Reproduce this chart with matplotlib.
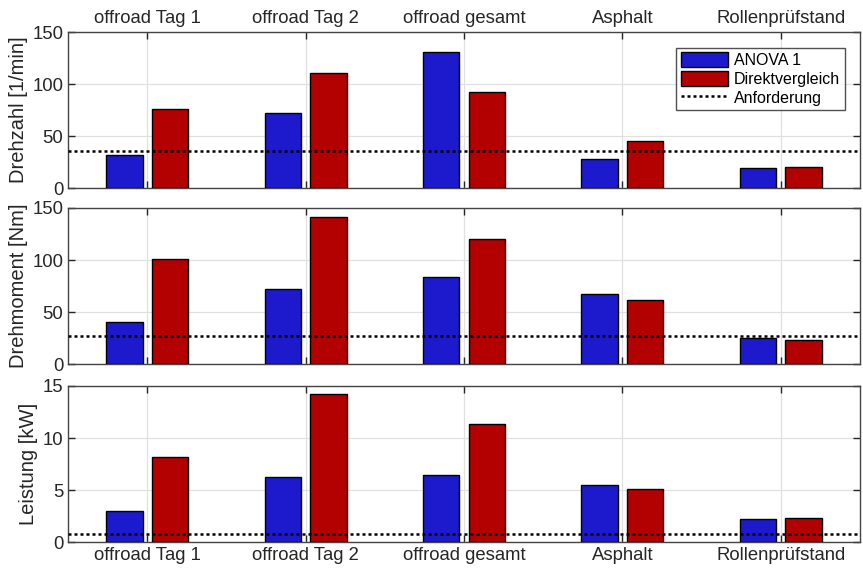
import matplotlib
matplotlib.use("Agg")
import matplotlib.pyplot as plt
import numpy as np
from matplotlib.lines import Line2D
from matplotlib.patches import Patch

plt.rcParams['font.family'] = ['Liberation Sans', 'DejaVu Sans']

categories = ["offroad Tag 1", "offroad Tag 2", "offroad gesamt", "Asphalt", "Rollenprüfstand"]

drehzahl_anova = [31.7, 72.7, 130.8, 28.5, 19.2]
drehzahl_direkt = [76.0, 110.9, 92.6, 45.2, 20.2]
drehzahl_anf = 36.2

moment_anova = [41.0, 72.4, 84.2, 67.3, 25.0]
moment_direkt = [100.6, 141.3, 120.2, 61.5, 23.7]
moment_anf = 26.9

leistung_anova = [3.0, 6.3, 6.44, 5.54, 2.27]
leistung_direkt = [8.23, 14.2, 11.37, 5.1, 2.37]
leistung_anf = 0.8

ylabels = ["Drehzahl [1/min]", "Drehmoment [Nm]", "Leistung [kW]"]
ylims = [(0, 150), (0, 150), (0, 15)]
yticks = [[0, 50, 100, 150], [0, 50, 100, 150], [0, 5, 10, 15]]

blue = "#1c1acc"
red = "#b30000"
axcol = "#262626"

fig = plt.figure(figsize=(8.63, 5.72), dpi=100)
left, width, height = 68 / 863, 792 / 863, 156.3 / 572
bottoms = [1 - 188.3 / 572, 1 - 364.3 / 572, 1 - 542.3 / 572]

data = [
    (drehzahl_anova, drehzahl_direkt, drehzahl_anf),
    (moment_anova, moment_direkt, moment_anf),
    (leistung_anova, leistung_direkt, leistung_anf),
]

x = np.arange(1, len(categories) + 1)
bw = 0.23
off = 0.144

for i, (a, d, anf) in enumerate(data):
    ax = fig.add_axes([left, bottoms[i], width, height])
    ax.bar(x - off, a, bw, color=blue, edgecolor="black", linewidth=1.0, zorder=3)
    ax.bar(x + off, d, bw, color=red, edgecolor="black", linewidth=1.0, zorder=3)
    ax.axhline(anf, color="black", linestyle=(0, (1.2, 1.2)), linewidth=1.8, zorder=4)
    ax.set_xlim(0.5, 5.5)
    ax.set_ylim(*ylims[i])
    ax.set_yticks(yticks[i])
    ax.set_xticks(x)
    ax.grid(True, color="#e0e0e0", linewidth=0.9, zorder=0)
    ax.set_axisbelow(True)
    ax.tick_params(direction="in", length=5, width=1.0, colors=axcol, labelsize=13.3,
                   top=True, right=True, labelcolor="#262626")
    ax.set_ylabel(ylabels[i], fontsize=14.5, color="#262626", labelpad=3)
    for s in ax.spines.values():
        s.set_color("#444444")
        s.set_linewidth(1.0)
    if i == 0:
        ax.tick_params(labeltop=True, labelbottom=False)
        ax.set_xticklabels(categories)
        handles = [Patch(facecolor=blue, edgecolor="black"),
                   Patch(facecolor=red, edgecolor="black"),
                   Line2D([0], [0], color="black", linestyle=(0, (1.2, 1.2)), linewidth=1.8)]
        leg = ax.legend(handles, ["ANOVA 1", "Direktvergleich", "Anforderung"],
                        loc="upper right", bbox_to_anchor=(0.981, 0.9), fontsize=11.5,
                        frameon=True, fancybox=False, edgecolor="#262626",
                        handlelength=3.0, handleheight=1.0, handletextpad=0.35,
                        borderpad=0.3, labelspacing=0.2, borderaxespad=0.0)
        leg.get_frame().set_linewidth(1.0)
    elif i == 1:
        ax.tick_params(labelbottom=False)
    else:
        ax.set_xticklabels(categories)

fig.savefig("out.png", dpi=100)
